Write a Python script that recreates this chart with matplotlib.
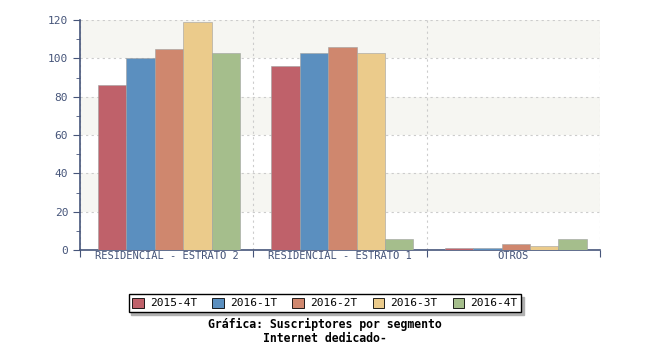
import numpy as np
import matplotlib.pyplot as plt

segmentos = ['RESIDENCIAL - ESTRATO 2', 'RESIDENCIAL - ESTRATO 1', 'OTROS']
periodos = ['2015-4T', '2016-1T', '2016-2T', '2016-3T', '2016-4T']
v_2015_4t = [86, 96, 1]
v_2016_1t = [100, 103, 1]
v_2016_2t = [105, 106, 3]
v_2016_3t = [119, 103, 2]
v_2016_4t = [103, 6, 6]
colores = ['#bf616a', '#5b8fbf', '#cf876e', '#ebcb8b', '#a5be8c']

series = [v_2015_4t, v_2016_1t, v_2016_2t, v_2016_3t, v_2016_4t]
eje = '#46557a'
mono = 'DejaVu Sans Mono'

fig = plt.figure(figsize=(6.5, 3.5), dpi=100)
ax = fig.add_axes([80/650, 100/350, 520/650, 230/350])

# bandas alternas de fondo
for y0 in (20, 60, 100):
    ax.axhspan(y0, y0 + 20, color='#f6f6f2', zorder=0, lw=0)

ancho = 0.164
x0 = np.arange(len(segmentos)) + 0.104
for k, (vals, c) in enumerate(zip(series, colores)):
    ax.bar(x0 + k * ancho, vals, width=ancho, align='edge', color=c,
           edgecolor='#a0a0a0', linewidth=0.4, label=periodos[k], zorder=3)

ax.set_xlim(0, 3)
ax.set_ylim(0, 120)
ax.set_yticks(range(0, 121, 20))
ax.set_yticks(range(0, 121, 10), minor=True)
ax.set_xticks([0, 1, 2, 3])
ax.set_xticklabels([])
ax.set_xticks([0.5, 1.5, 2.5], minor=True)
ax.set_xticklabels(segmentos, minor=True, fontsize=7.5, family=mono, color=eje)
ax.tick_params(axis='x', which='minor', length=0, pad=1)
ax.tick_params(axis='x', which='major', length=5, color=eje, direction='out')
ax.tick_params(axis='y', which='major', length=5, color=eje, labelcolor=eje, labelsize=8)
ax.tick_params(axis='y', which='minor', length=3, color=eje)
for t in ax.get_yticklabels():
    t.set_family(mono)

ax.grid(True, which='major', color='#cccccc', linestyle=(0, (2, 3)), linewidth=0.8, zorder=1)
ax.set_axisbelow(True)
for s in ('top', 'right'):
    ax.spines[s].set_visible(False)
for s in ('left', 'bottom'):
    ax.spines[s].set_color(eje)
    ax.spines[s].set_linewidth(1.2)

leg = fig.legend(loc='center', bbox_to_anchor=(325/650, 1 - 303/350), ncol=5,
                 prop={'family': mono, 'size': 8}, frameon=True, fancybox=False,
                 shadow={'color': '#b0b0b0', 'alpha': 1}, handlelength=1.0, handleheight=1.0,
                 handletextpad=0.6, columnspacing=1.35, borderpad=0.35)
leg.get_frame().set_edgecolor('black')
leg.get_frame().set_linewidth(1)
for h in leg.legend_handles:
    h.set_edgecolor('black')
    h.set_linewidth(0.6)

fig.text(325/650, 1 - 324.5/350, 'Gráfica: Suscriptores por segmento', ha='center', va='center',
         family=mono, fontsize=8.3, fontweight='bold')
fig.text(325/650, 1 - 338/350, 'Internet dedicado-', ha='center', va='center',
         family=mono, fontsize=8.3, fontweight='bold')

fig.savefig('out.png', dpi=100, facecolor='white')
